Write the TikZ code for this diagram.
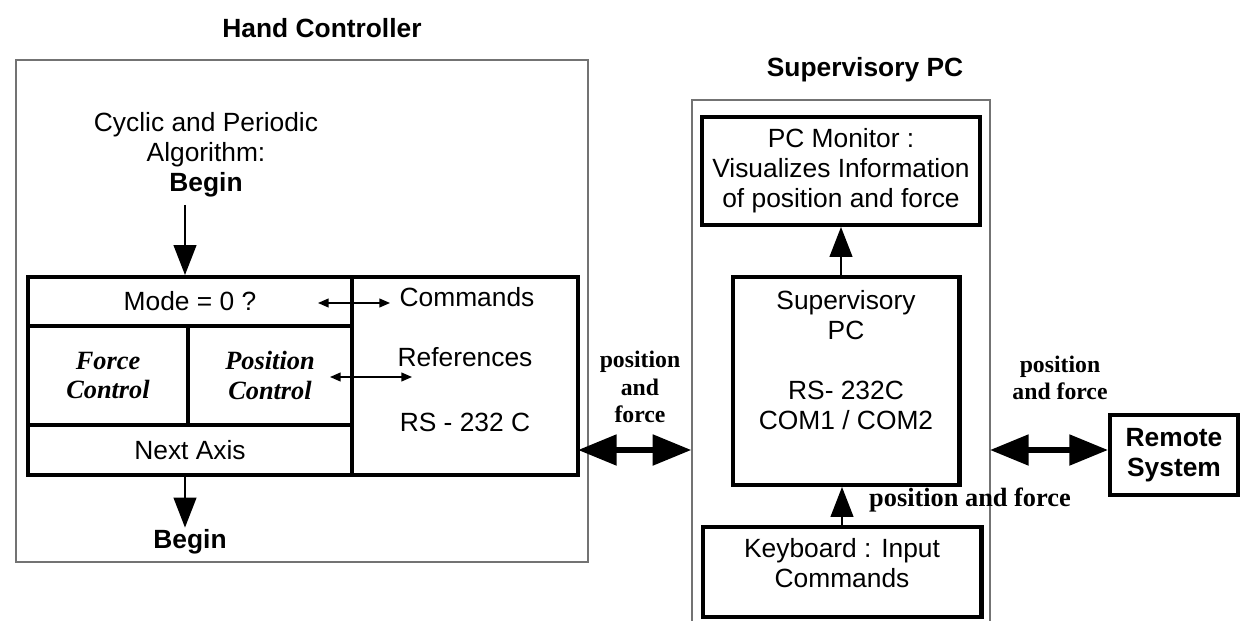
\documentclass[tikz,border=0pt]{standalone}
\usepackage{fontspec}
\setmainfont{Liberation Sans}
\newfontfamily\timesfont{Liberation Serif}
\usetikzlibrary{arrows.meta,calc}

\begin{document}
\begin{tikzpicture}[x=0.02cm,y=-0.02cm,
  font=\fontsize{15}{17}\selectfont,
  frame/.style={draw=black!55,line width=0.8pt,inner sep=0pt},
  cell/.style={draw,line width=2.3pt,inner sep=0pt,align=center},
  txt/.style={align=center,inner sep=1pt},
  lab/.style={align=center,inner sep=1pt,font=\fontsize{13.5}{15.5}\selectfont\timesfont\bfseries},
  bigtip/.style={-{Triangle[length=17pt,width=13pt]},line width=0.8pt},
  smalltip/.style={{Triangle[length=6pt,width=5pt]}-{Triangle[length=6pt,width=5pt]},line width=0.8pt},
  bus/.style={{Triangle[length=22pt,width=17pt]}-{Triangle[length=22pt,width=17pt]},line width=3.2pt}]
  \clip (0,0) rectangle (1240,621);
  \fill[white] (0,0) rectangle (1240,621);
  %Hand Controller
  \node[font=\fontsize{15}{17}\selectfont\bfseries] (hctitle) at (322,28) {Hand Controller};
  \node[frame,minimum width=11.44cm,minimum height=10.04cm] (hcframe) at (302,311) {};
  \node[txt] (algo) at (206,155) {Cyclic and Periodic\\Algorithm:\\\textbf{Begin}};
  \node[cell,minimum width=6.48cm,minimum height=0.98cm] (mode) at (190,301.5) {Mode = 0 ?};
  \node[cell,minimum width=3.2cm,minimum height=1.98cm,font=\fontsize{15}{17}\selectfont\timesfont\bfseries\itshape] (force) at (108,375.5) {Force\\Control};
  \node[cell,minimum width=3.28cm,minimum height=1.98cm,font=\fontsize{15}{17}\selectfont\timesfont\bfseries\itshape] (posn) at (270,375.5) {Position\\Control};
  \node[cell,minimum width=6.48cm,minimum height=1cm] (next) at (190,450) {Next Axis};
  \node[cell,minimum width=4.52cm,minimum height=3.96cm] (comm) at (465,376) {};
  \node[txt] (cmd) at (467,297) {Commands};
  \node[txt] (refs) at (465,357) {References};
  \node[txt] (rs) at (465,422) {RS - 232 C};
  \node[txt,font=\fontsize{15}{17}\selectfont\bfseries] (endbegin) at (190,542) {Begin};
  %流れ
  \coordinate (s0) at (185,205);
  \path[draw,bigtip](s0)to(s0 |- mode.north);
  \path[draw,bigtip](s0 |- next.south)to(s0 |- endbegin.north);
  \coordinate (m1) at (318,303);
  \coordinate (m2) at (390,303);
  \path[draw,smalltip](m1)to(m2);
  \coordinate (p1) at (330,377);
  \coordinate (p2) at (412,377);
  \path[draw,smalltip](p1)to(p2);
  %Supervisory PC
  \node[font=\fontsize{15}{17}\selectfont\bfseries] (spctitle) at (865,70) {Supervisory PC};
  \node[frame,minimum width=5.96cm,minimum height=11.2cm] (spcframe) at (841,380) {};
  \node[cell,minimum width=5.56cm,minimum height=2.16cm] (mon) at (841,171) {PC Monitor :\\Visualizes Information\\of position and force};
  \node[cell,minimum width=4.54cm,minimum height=4.16cm] (spc) at (846,381) {};
  \node[txt] (spctxt) at (846,360) {Supervisory\\PC\\[17pt]RS- 232C\\COM1 / COM2};
  \node[cell,minimum width=5.58cm,minimum height=1.8cm] (kb) at (842,572) {};
  \node[txt] (kbtxt) at (842,563) {Keyboard : Input\\Commands};
  \path[draw,bigtip](spc.north -| mon.south)to(mon.south);
  \path[draw,bigtip](kb.north)to(kb.north |- spc.south);
  \node[lab,font=\fontsize{15}{17}\selectfont\timesfont\bfseries] (kblab) at (970,500) {position and force};
  %Remote System
  \node[cell,minimum width=2.56cm,minimum height=1.6cm,font=\fontsize{15}{17}\selectfont\bfseries] (remote) at (1174,455) {Remote\\System};
  %通信
  \coordinate (b1) at (578,450);
  \path[draw,bus](b1)to(b1 -| spcframe.west);
  \node[lab] (buslab) at (640,387) {position\\and\\force};
  \coordinate (r1) at (990,450);
  \path[draw,bus](r1)to(r1 -| remote.west);
  \node[lab] (remlab) at (1060,378) {position\\and force};
\end{tikzpicture}
\end{document}
